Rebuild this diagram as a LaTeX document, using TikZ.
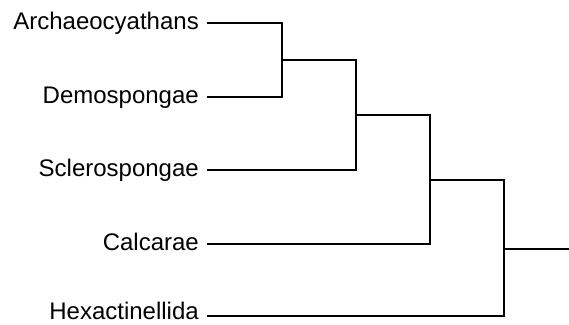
\documentclass[tikz,border=0pt]{standalone}
\usepackage{fontspec}
\setmainfont{Liberation Sans}
\begin{document}
\begin{tikzpicture}[x=1pt,y=-1pt,
  taxon/.style={anchor=base east,inner sep=0pt,text depth=0pt,font=\fontsize{24}{26}\selectfont},
  branch/.style={line width=2.3pt,line cap=rect,line join=miter}]
\useasboundingbox (0,0) rectangle (569,324);
% leaf label nodes
\node[taxon] (la) at (199,29.5) {Archaeocyathans};
\node[taxon] (ld) at (199,103.5) {Demospongae};
\node[taxon] (ls) at (199,176.5) {Sclerospongae};
\node[taxon] (lc) at (199,250.5) {Calcarae};
\node[taxon] (lh) at (199,319.5) {Hexactinellida};
% leaf starts
\coordinate (a0) at (208,23);
\coordinate (d0) at (208,97);
\coordinate (s0) at (208,170);
\coordinate (c0) at (208,244);
\coordinate (h0) at (208,316);
% internal nodes
\coordinate (n1) at (282,60);
\coordinate (n2) at (356,115);
\coordinate (n3) at (430,180);
\coordinate (n4) at (504,249);
\coordinate (root) at (569,249);
% branches
\draw[branch] (a0) -| (n1) |- (d0);
\draw[branch] (n1) -| (n2) |- (s0);
\draw[branch] (n2) -| (n3) |- (c0);
\draw[branch] (n3) -| (n4) |- (h0);
\draw[branch] (n4) -- (root);
\end{tikzpicture}
\end{document}
